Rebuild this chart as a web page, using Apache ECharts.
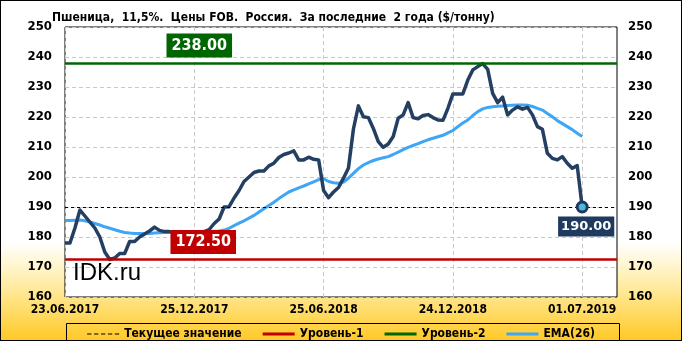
<!DOCTYPE html>
<html>
<head>
<meta charset="utf-8">
<script src="https://cdn.jsdelivr.net/npm/echarts@6/dist/echarts.min.js"></script>
<style>
  html, body { margin: 0; padding: 0; }
  #wrap { position: relative; width: 682px; height: 341px;
    background: linear-gradient(to bottom, #ffffff 0%, #ffffff 71%, #fff2c0 80%, #ffdf72 90%, #ffc824 100%); }
  #chart { position: absolute; left: 0; top: 0; width: 682px; height: 341px; }
  #frame { position: absolute; left: 0; top: 0; width: 682px; height: 341px; box-sizing: border-box;
    border: 1px solid #000; pointer-events: none; }
</style>
</head>
<body>
<div id="wrap"><div id="chart"></div><div id="frame"></div></div>
<script>
const titleText = 'Пшеница,  11,5%.  Цены FOB.  Россия.  За последние  2 года ($/тонну)';
const tickLabels = ['23.06.2017', '25.12.2017', '25.06.2018', '24.12.2018', '01.07.2019'];
const tickStep = 26;
const categoryCount = 112;
const price = [
  178, 178, 183, 189, 187, 185, 183, 180, 175, 172.5,
  173, 174.5, 174.5, 178.5, 178.5, 180, 181, 182, 183.3, 182.2,
  181.8, 181.8, 181.5, 181, 181, 181, 181, 181.5, 181.8, 182.5,
  184.5, 186, 190, 190.1, 193, 195.5, 198.5, 200, 201.5, 202,
  202, 203.7, 204.6, 206.5, 207.5, 208, 208.7, 205.7, 205.7, 206.6,
  205.9, 205.7, 195.5, 193.1, 195, 196.5, 199.6, 203, 216, 223.7,
  220.1, 219.8, 216.2, 211.8, 209.9, 211, 213.5, 219.6, 220.7, 224.8,
  219.8, 219.4, 220.5, 220.8, 219.8, 219, 218.9, 222.9, 227.7, 227.7,
  227.7, 232.3, 235.7, 236.8, 237.8, 235.9, 227.9, 224.8, 226.6, 220.7,
  222.3, 223.4, 222.6, 223.2, 220.7, 216.8, 215.9, 207.9, 206.2, 205.7,
  206.8, 204.6, 202.9, 203.8, 190
];
const ema26 = [
  185.5, 185.5, 185.6, 185.7, 185.4, 185, 184.5, 184, 183.4, 182.9,
  182.4, 181.9, 181.5, 181.3, 181.2, 181.2, 181.2, 181.2, 181.3, 181.4,
  181.5, 181.5, 181.5, 181.5, 181.5, 181.5, 181.5, 181.6, 181.7, 181.8,
  181.9, 182, 182.3, 182.9, 183.8, 184.6, 185.4, 186.3, 187.2, 188.3,
  189.4, 190.5, 191.6, 192.8, 193.9, 195, 195.7, 196.4, 197, 197.7,
  198.4, 199.1, 199.4, 198.5, 198.1, 197.9, 198.3, 199.6, 201.2, 202.8,
  204, 204.8, 205.5, 206, 206.4, 206.8, 207.5, 208.3, 209.1, 209.9,
  210.5, 211.1, 211.8, 212.4, 212.9, 213.4, 213.9, 214.7, 215.5, 216.8,
  218, 219, 220.5, 221.8, 222.7, 223.2, 223.4, 223.6, 223.7, 223.8,
  223.9, 224, 224, 223.9, 223.5, 222.9, 222.3, 221.2, 220.1, 218.8,
  217.8, 216.8, 215.8, 214.6, 213.5
];
const currentValue = 190;
const level1 = 172.5;
const level2 = 238;
const legendNames = ['Текущее значение', 'Уровень-1', 'Уровень-2', 'EMA(26)'];

const categories = Array.from({ length: categoryCount }, (_, i) => String(i));
const lastIdx = price.length - 1;
const font = '"DejaVu Sans Condensed", "DejaVu Sans", sans-serif';

const chart = echarts.init(document.getElementById('chart'), null, { renderer: 'canvas' });
const yAxisBase = {
  type: 'value', min: 160, max: 250, interval: 10,
  axisLine: { show: false }, axisTick: { show: false },
  axisLabel: { color: '#000', fontWeight: 'bold', fontSize: 13, fontFamily: font }
};
chart.setOption({
  backgroundColor: 'transparent',
  animation: false,
  title: {
    text: titleText, left: 47, top: 7,
    textStyle: { fontSize: 12, fontWeight: 'bold', color: '#000', fontFamily: font }
  },
  grid: {
    left: 65, right: 65, top: 27, bottom: 44,
    show: true, backgroundColor: '#ffffff', borderColor: '#000', borderWidth: 1
  },
  legend: {
    data: [
      { name: legendNames[0], icon: 'path://M0,0H5V1H0Z M8,0H13V1H8Z M16,0H21V1H16Z M24,0H29V1H24Z M32,0H37V1H32Z' },
      { name: legendNames[1], icon: 'rect' },
      { name: legendNames[2], icon: 'rect' },
      { name: legendNames[3], icon: 'rect' }
    ],
    left: 'center', top: 323,
    itemWidth: 32, itemHeight: 3, itemGap: 21,
    textStyle: { color: '#000', fontWeight: 'bold', fontSize: 12, fontFamily: font }
  },
  xAxis: {
    type: 'category', data: categories, boundaryGap: false,
    axisLine: { show: false }, axisTick: { show: false },
    axisLabel: {
      interval: tickStep - 1, margin: 7,
      color: '#000', fontWeight: 'bold', fontSize: 12, fontFamily: font,
      formatter: (v, i) => tickLabels[Math.round(i / tickStep)] || ''
    },
    splitLine: { show: true, interval: tickStep - 1, lineStyle: { color: '#c8c8c8', type: [4, 3], width: 1 } }
  },
  yAxis: [
    Object.assign({}, yAxisBase, {
      position: 'left',
      axisLabel: Object.assign({}, yAxisBase.axisLabel, { margin: 13 }),
      splitLine: { show: true, lineStyle: { color: '#c8c8c8', type: [4, 3], width: 1 } }
    }),
    Object.assign({}, yAxisBase, {
      position: 'right',
      axisLabel: Object.assign({}, yAxisBase.axisLabel, { margin: 11 }),
      splitLine: { show: false }
    })
  ],
  series: [
    {
      name: legendNames[0], type: 'line', data: [], color: '#000',
      markLine: {
        silent: true, symbol: 'none', label: { show: false },
        lineStyle: { color: '#000', type: [3, 3], width: 1 },
        data: [{ yAxis: currentValue }]
      }
    },
    {
      name: legendNames[1], type: 'line', data: [], color: '#c00000',
      markLine: {
        silent: true, symbol: 'none', label: { show: false },
        lineStyle: { color: '#c00000', type: 'solid', width: 2.5 },
        data: [{ yAxis: level1 }]
      }
    },
    {
      name: legendNames[2], type: 'line', data: [], color: '#006600',
      markLine: {
        silent: true, symbol: 'none', label: { show: false },
        lineStyle: { color: '#006600', type: 'solid', width: 2.5 },
        data: [{ yAxis: level2 }]
      }
    },
    {
      name: legendNames[3], type: 'line', data: ema26, color: '#3ea6f5',
      showSymbol: false, symbol: 'none',
      lineStyle: { color: '#3ea6f5', width: 3 }
    },
    {
      name: 'Цена', type: 'line', data: price, color: '#243f62',
      showSymbol: false, symbol: 'none', z: 3,
      lineStyle: { color: '#243f62', width: 3.5, join: 'round' },
      markPoint: {
        silent: true,
        data: [
          {
            coord: [27, level2], symbol: 'rect', symbolSize: 1, itemStyle: { color: 'rgba(0,0,0,0)' },
            value: level2.toFixed(2),
            label: {
              show: true, position: 'top', distance: 5, formatter: level2.toFixed(2),
              color: '#fff', fontWeight: 'bold', fontSize: 16, fontFamily: font, lineHeight: 16,
              backgroundColor: '#006600', padding: [4, 5, 4, 5]
            }
          },
          {
            coord: [28, level1], symbol: 'rect', symbolSize: 1, itemStyle: { color: 'rgba(0,0,0,0)' },
            value: level1.toFixed(2),
            label: {
              show: true, position: 'top', distance: 5, offset: [-1, 0], formatter: level1.toFixed(2),
              color: '#fff', fontWeight: 'bold', fontSize: 16, fontFamily: font, lineHeight: 16,
              backgroundColor: '#c00000', padding: [4, 5, 4, 5]
            }
          },
          {
            coord: [lastIdx, price[lastIdx]], symbol: 'circle', symbolSize: 10,
            itemStyle: { color: '#4fb6dc', borderColor: '#1f3a60', borderWidth: 3 },
            label: { show: false }
          },
          {
            coord: [lastIdx, price[lastIdx]], symbol: 'rect', symbolSize: 1, itemStyle: { color: 'rgba(0,0,0,0)' },
            value: price[lastIdx].toFixed(2),
            label: {
              show: true, position: 'bottom', distance: 9, offset: [4, 0], formatter: price[lastIdx].toFixed(2),
              color: '#fff', fontWeight: 'bold', fontSize: 13, fontFamily: '"DejaVu Sans", sans-serif', lineHeight: 14,
              backgroundColor: '#1f3a5f', padding: [3, 3, 3, 3]
            }
          }
        ]
      }
    }
  ],
  graphic: [
    {
      type: 'rect', left: 64, top: 321, z: 10, silent: true,
      shape: { width: 553, height: 18 },
      style: { fill: 'none', stroke: '#000', lineWidth: 1 }
    },
    {
      type: 'text', left: 73, top: 261, z: 10, silent: true,
      style: { text: 'IDK.ru', fill: '#000', font: '24px "Liberation Sans", Arial, sans-serif' }
    }
  ]
});
</script>
</body>
</html>
